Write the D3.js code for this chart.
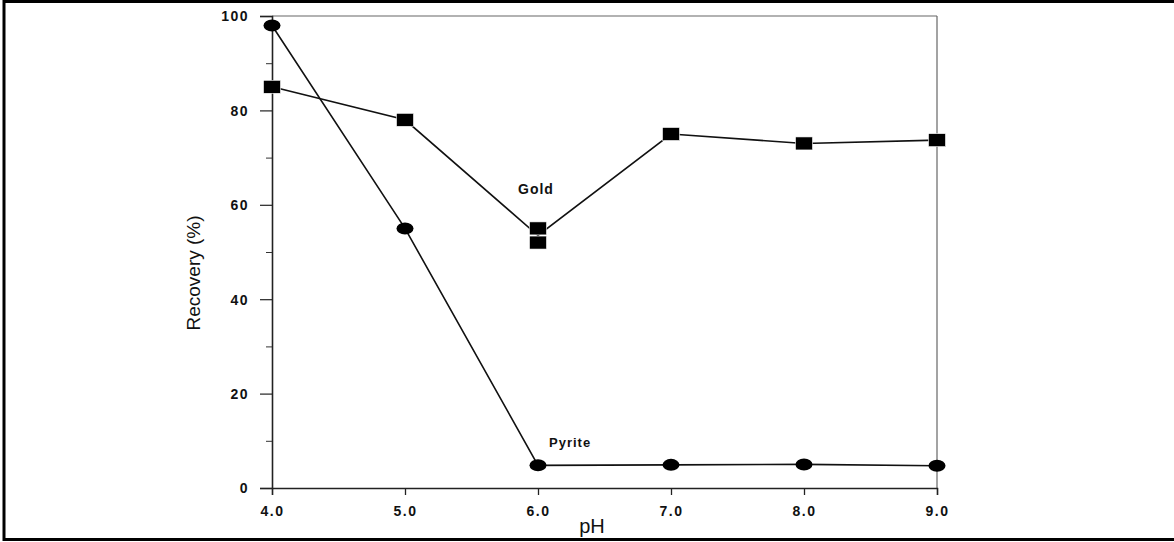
<!DOCTYPE html>
<html>
<head>
<meta charset="utf-8">
<script src="https://cdn.jsdelivr.net/npm/d3@7"></script>
<style>
  html, body { margin: 0; padding: 0; background: #fff; }
  svg { display: block; }
</style>
</head>
<body>
<svg id="chart" width="1174" height="542"></svg>
<script>
// pH values on the x axis
const phValues = [4.0, 5.0, 6.0, 7.0, 8.0, 9.0];
// Pyrite recovery (%)
const pyriteRecovery = [98, 55, 4.8, 4.9, 5.0, 4.7];
// Gold recovery (%): two replicate runs at pH 6.0
const goldPh = [4.0, 5.0, 6.0, 6.0, 7.0, 8.0, 9.0];
const goldRecovery = [85, 78, 55, 52, 75, 73, 73.7];
// Tick labels
const xTicks = [4.0, 5.0, 6.0, 7.0, 8.0, 9.0];
const yTicks = [0, 20, 40, 60, 80, 100];
const yMinorTicks = [10, 30, 50, 70, 90];

const FONT = "Liberation Sans, Arial, sans-serif";
const svg = d3.select("#chart");
const W = 1174, H = 542;

// frame around the figure
svg.append("rect").attr("x", 4).attr("y", 1.5).attr("width", W + 10).attr("height", H - 4)
  .attr("fill", "none").attr("stroke", "#000").attr("stroke-width", 3);

const x = d3.scaleLinear().domain([4, 9]).range([272, 937]);
const y = d3.scaleLinear().domain([0, 100]).range([488, 16]);

const g = svg.append("g");

// plot box (top and right edges are lighter)
g.append("line").attr("x1", x(4)).attr("x2", x(9)).attr("y1", y(100)).attr("y2", y(100))
  .attr("stroke", "#666").attr("stroke-width", 1.2);
g.append("line").attr("x1", x(9)).attr("x2", x(9)).attr("y1", y(100)).attr("y2", y(0))
  .attr("stroke", "#666").attr("stroke-width", 1.2);

// x axis
const xAxis = d3.axisBottom(x).tickValues(xTicks).tickFormat(d3.format(".1f"))
  .tickSize(7).tickPadding(11);
const gx = g.append("g").attr("transform", `translate(0,${y(0)})`).call(xAxis);
gx.select(".domain").attr("stroke", "#222").attr("stroke-width", 1.4);
gx.selectAll(".tick line").attr("stroke", "#222").attr("stroke-width", 1.3);
gx.selectAll(".tick text").attr("font-family", FONT)
  .attr("font-weight", "bold").attr("font-size", 14).attr("letter-spacing", 1.5)
  .attr("fill", "#111");

// y axis
const yAxis = d3.axisLeft(y).tickValues(yTicks).tickFormat(d3.format("d"))
  .tickSize(12).tickPadding(11);
const gy = g.append("g").attr("transform", `translate(${x(4)},0)`).call(yAxis);
gy.select(".domain").attr("stroke", "#222").attr("stroke-width", 1.6);
gy.selectAll(".tick line").attr("stroke", "#222").attr("stroke-width", 1.2);
gy.selectAll(".tick text").attr("font-family", FONT)
  .attr("font-weight", "bold").attr("font-size", 14).attr("letter-spacing", 1.5)
  .attr("fill", "#111").attr("dy", "0.35em");
// minor ticks
const yMinor = d3.axisLeft(y).tickValues(yMinorTicks).tickSize(6).tickFormat("");
const gym = g.append("g").attr("transform", `translate(${x(4)},0)`).call(yMinor);
gym.select(".domain").remove();
gym.selectAll(".tick line").attr("stroke", "#333").attr("stroke-width", 1);

// axis titles
svg.append("text").attr("x", 592).attr("y", 533).attr("text-anchor", "middle")
  .attr("font-family", FONT).attr("font-size", 20)
  .attr("fill", "#111").text("pH");
svg.append("text").attr("transform", "translate(200,273) rotate(-90)")
  .attr("text-anchor", "middle")
  .attr("font-family", FONT).attr("font-size", 19)
  .attr("fill", "#111").text("Recovery (%)");

// gold line: replicates at pH 6.0 are averaged for the connecting line
const goldByPh = d3.rollups(goldPh.map((p, i) => ({p, v: goldRecovery[i]})),
  vs => d3.mean(vs, d => d.v), d => d.p).sort((a, b) => a[0] - b[0]);
const line = d3.line().x(d => x(d[0])).y(d => y(d[1]));

g.append("path").datum(goldByPh).attr("d", line)
  .attr("fill", "none").attr("stroke", "#111").attr("stroke-width", 1.6);
g.append("path").datum(phValues.map((p, i) => [p, pyriteRecovery[i]])).attr("d", line)
  .attr("fill", "none").attr("stroke", "#111").attr("stroke-width", 1.6);

// gold markers: filled squares
g.selectAll("rect.gold").data(goldPh.map((p, i) => [p, goldRecovery[i]]))
  .enter().append("rect").attr("class", "gold")
  .attr("x", d => x(d[0]) - 8.5).attr("y", d => y(d[1]) - 6.5)
  .attr("width", 17).attr("height", 13).attr("fill", "#000")
  .attr("stroke", "#fff").attr("stroke-width", 0.6);

// pyrite markers: filled ellipses
g.selectAll("ellipse.pyrite").data(phValues.map((p, i) => [p, pyriteRecovery[i]]))
  .enter().append("ellipse").attr("class", "pyrite")
  .attr("cx", d => x(d[0])).attr("cy", d => y(d[1]))
  .attr("rx", 8.5).attr("ry", 6).attr("fill", "#000");

// series labels
svg.append("text").attr("x", 518).attr("y", 194)
  .attr("font-family", FONT).attr("font-weight", "bold")
  .attr("font-size", 14).attr("letter-spacing", 1).attr("fill", "#111").text("Gold");
svg.append("text").attr("x", 549).attr("y", 447)
  .attr("font-family", FONT).attr("font-weight", "bold")
  .attr("font-size", 13).attr("letter-spacing", 1).attr("fill", "#111").text("Pyrite");
</script>
</body>
</html>
